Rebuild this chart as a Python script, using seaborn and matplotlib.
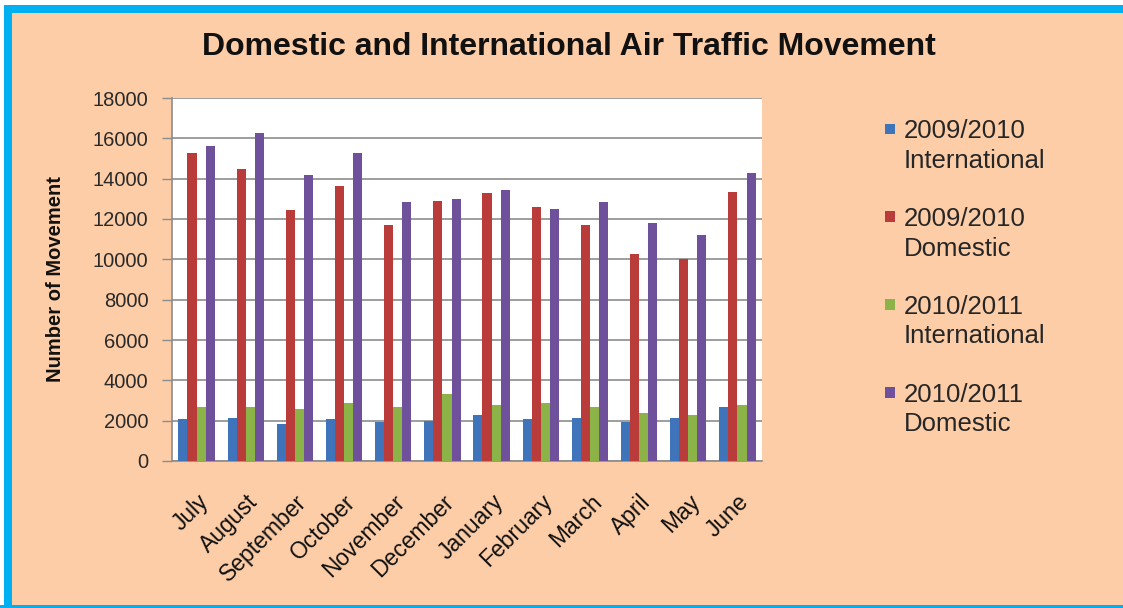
import matplotlib
matplotlib.use("Agg")
import matplotlib.pyplot as plt
from matplotlib.patches import Rectangle
from matplotlib.legend_handler import HandlerPatch
from matplotlib.transforms import ScaledTranslation
import seaborn as sns
import pandas as pd

months = ["July", "August", "September", "October", "November", "December",
          "January", "February", "March", "April", "May", "June"]
series_names = ["2009/2010\nInternational", "2009/2010\nDomestic",
                "2010/2011\nInternational", "2010/2011\nDomestic"]
intl_0910 = [2080, 2120, 1830, 2080, 1920, 2000, 2280, 2080, 2120, 1920, 2120, 2700]
dom_0910 = [15250, 14500, 12470, 13630, 11720, 12870, 13300, 12580, 11700, 10250, 10030, 13330]
intl_1011 = [2670, 2670, 2580, 2880, 2670, 3330, 2780, 2880, 2700, 2380, 2300, 2780]
dom_1011 = [15620, 16250, 14200, 15280, 12830, 12970, 13450, 12500, 12830, 11800, 11230, 14300]
y_ticks = [0, 2000, 4000, 6000, 8000, 10000, 12000, 14000, 16000, 18000]

colors = ["#3F73BA", "#BA3C3A", "#8CB347", "#6F509A"]
bg = "#FDCDA7"
frame = "#00B0F0"
grid_col = "#8C8C8C"

rows = []
for name, vals in zip(series_names, [intl_0910, dom_0910, intl_1011, dom_1011]):
    for m, v in zip(months, vals):
        rows.append({"Month": m, "Series": name, "Movements": v})
df = pd.DataFrame(rows)

sns.set_theme(style="white")
plt.rcParams["font.family"] = ["Liberation Sans", "DejaVu Sans"]

fig = plt.figure(figsize=(11.23, 6.08), dpi=100)
fig.patch.set_facecolor(bg)


def band(x, y, w, h, color):
    fig.add_artist(Rectangle((x / 1123, y / 608), w / 1123, h / 608,
                             transform=fig.transFigure, facecolor=color,
                             edgecolor="none", zorder=0))


# cyan frame around the chart
band(0, 595, 1123, 8, frame)
band(0, 603, 1123, 5, "white")
band(0, 0, 4, 603, "white")
band(4, 0, 8, 603, frame)
band(0, 0, 1123, 3, frame)

ax = fig.add_axes([172 / 1123, 1 - 461 / 608, 590 / 1123, 363 / 608])
ax.set_facecolor("white")

sns.barplot(data=df, x="Month", y="Movements", hue="Series", hue_order=series_names,
            order=months, palette=colors, width=0.74, gap=0, saturation=1,
            edgecolor="none", ax=ax, zorder=3)

ax.set_ylim(0, 18000)
ax.set_xlim(-0.5, len(months) - 0.5)
ax.set_yticks(y_ticks)
ax.set_yticklabels([str(t) for t in y_ticks], fontsize=14.5, color="#2A2A2A")
ax.yaxis.grid(True, color=grid_col, linewidth=1.2, zorder=0)
ax.set_axisbelow(True)

# tick marks sit on the category boundaries, labels on the category centres
ax.set_xticks([i - 0.5 for i in range(len(months) + 1)], minor=False)
ax.set_xticklabels([])
ax.set_xticks(range(len(months)), minor=True)
ax.set_xticklabels(months, minor=True, rotation=45, ha="right", rotation_mode="anchor",
                   fontsize=16.5, color="#111111")
shift = ScaledTranslation(-5 / 100, 0, fig.dpi_scale_trans)
for lbl in ax.get_xticklabels(minor=True):
    lbl.set_transform(lbl.get_transform() + shift)
ax.tick_params(axis="x", which="major", direction="out", length=6, width=1, color=grid_col)
ax.tick_params(axis="x", which="minor", length=0, pad=21)
ax.tick_params(axis="y", direction="out", length=7, width=1, color=grid_col, left=True, pad=10)

for side in ["left", "bottom"]:
    ax.spines[side].set_color(grid_col)
    ax.spines[side].set_linewidth(1.2)
for side in ["top", "right"]:
    ax.spines[side].set_visible(False)

ax.set_xlabel("")
ax.set_ylabel("Number of Movement", fontsize=14.5, fontweight="bold", color="#111111",
              labelpad=20)

fig.text(569 / 1123, 1 - 47 / 608, "Domestic and International Air Traffic Movement",
         ha="center", va="center", fontsize=23, fontweight="bold", color="#111111")


class TopSquare(HandlerPatch):
    """Small square marker aligned with the first line of a two-line label."""

    def create_artists(self, legend, orig_handle, xdescent, ydescent, width, height,
                       fontsize, trans):
        size = 0.4 * fontsize
        x = -xdescent + width - size
        y = -ydescent + (height - size) / 2 + 0.68 * fontsize
        p = Rectangle((x, y), size, size, facecolor=orig_handle.get_facecolor(),
                      edgecolor="none", transform=trans)
        return [p]


handles, labels = ax.get_legend_handles_labels()
leg = ax.legend(handles, labels, loc="upper left", bbox_to_anchor=(881 / 1123, 1 - 119 / 608),
                bbox_transform=fig.transFigure, frameon=False, fontsize=18.5,
                handlelength=0.55, handleheight=0.5, handletextpad=0.35, labelspacing=1.33,
                borderaxespad=0, borderpad=0,
                handler_map={h: TopSquare() for h in handles})
for t in leg.get_texts():
    t.set_linespacing(1.3)

fig.savefig("out.png", dpi=100, facecolor=bg)
